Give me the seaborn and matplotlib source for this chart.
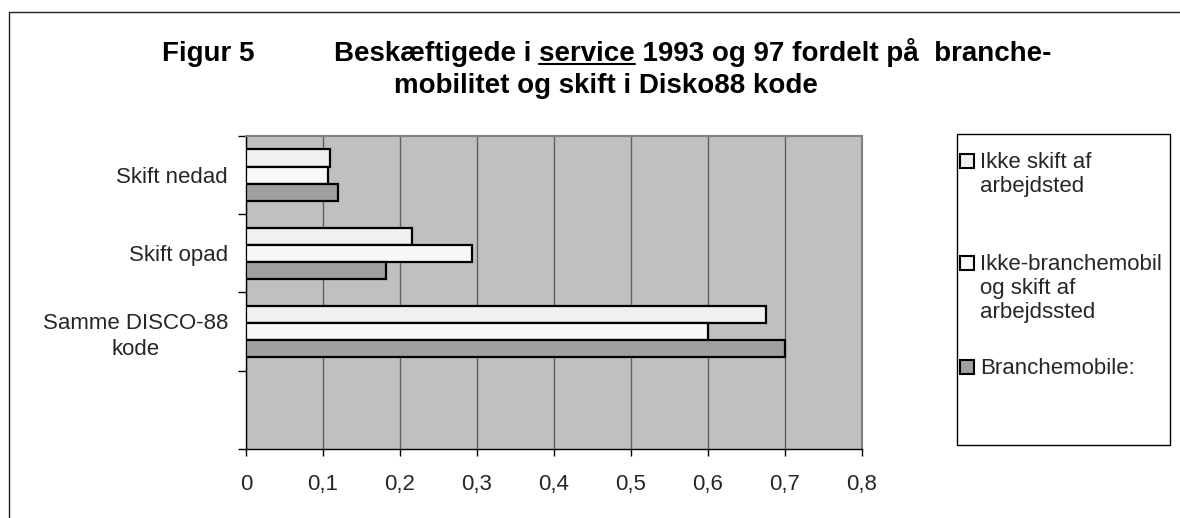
import matplotlib
matplotlib.use("Agg")
import matplotlib.pyplot as plt
import seaborn as sns
import pandas as pd
from matplotlib.lines import Line2D
from matplotlib.patches import Rectangle

# --- data ---
categories = ["Skift nedad", "Skift opad", "Samme DISCO-88\nkode"]
series = ["Ikke skift af\narbejdsted",
          "Ikke-branchemobil\nog skift af\narbejdssted",
          "Branchemobile:"]
ikke_skift = [0.109, 0.216, 0.675]
ikke_branchemobil = [0.106, 0.293, 0.600]
branchemobile = [0.119, 0.182, 0.700]
x_ticks = [0, 0.1, 0.2, 0.3, 0.4, 0.5, 0.6, 0.7, 0.8]
x_tick_labels = ["0", "0,1", "0,2", "0,3", "0,4", "0,5", "0,6", "0,7", "0,8"]

# farver (Excel-gråtoner)
COLORS = ["#f0f0f0", "#f8f8f8", "#a0a0a0"]

W, H = 1180, 518


def fx(px):
    return px / W


def fy(py):
    return 1 - py / H


rows = []
for s, vals in zip(series, [ikke_skift, ikke_branchemobil, branchemobile]):
    for c, v in zip(categories, vals):
        rows.append({"category": c, "series": s, "value": v})
df = pd.DataFrame(rows)

sns.set_theme(style="white")
plt.rcParams["font.family"] = ["Liberation Sans", "DejaVu Sans"]

fig = plt.figure(figsize=(11.8, 5.18), dpi=100)
ax = fig.add_axes([fx(246), fy(449), fx(862) - fx(246), fy(136) - fy(449)])
ax.set_facecolor("#c0c0c0")

sns.barplot(data=df, x="value", y="category", hue="series",
            order=categories, hue_order=series, palette=COLORS,
            saturation=1, width=0.66, edgecolor="black", linewidth=1.6,
            orient="h", legend=False, ax=ax, zorder=3)

ax.set_xlim(0, 0.8)
ax.set_ylim(3.5, -0.5)
ax.set_axisbelow(True)
ax.xaxis.grid(True, color="#606060", linewidth=1)
ax.yaxis.grid(False)
ax.set_xlabel("")
ax.set_ylabel("")

ax.set_xticks(x_ticks, x_tick_labels)
ax.tick_params(axis="x", direction="out", length=5, width=1, color="black",
               labelsize=16, pad=13, bottom=True)
ax.tick_params(axis="y", which="major", length=0, labelsize=16, pad=13, left=False)
ax.set_yticks([-0.5, 0.5, 1.5, 2.5, 3.5], minor=True)
ax.tick_params(axis="y", which="minor", direction="out", length=6, width=1,
               color="black", left=True)
for lbl in ax.get_yticklabels():
    lbl.set_multialignment("center")
    lbl.set_linespacing(1.3)

for side in ["left", "bottom"]:
    ax.spines[side].set_color("black")
    ax.spines[side].set_linewidth(1)
for side in ["top", "right"]:
    ax.spines[side].set_color("#808080")
    ax.spines[side].set_linewidth(1.5)

# ramme om figuren
fig.add_artist(Line2D([fx(9), 1], [fy(12), fy(12)], color="#202020", linewidth=1))
fig.add_artist(Line2D([fx(9), fx(9)], [fy(12), 0], color="#202020", linewidth=1))

# titel
title_kw = dict(fontsize=20, fontweight="bold", color="black")
fig.text(fx(162), fy(61), "Figur 5", ha="left", va="baseline", **title_kw)
line1 = "Beskæftigede i service 1993 og 97 fordelt på  branche-"
fig.text(fx(334), fy(61), line1, ha="left", va="baseline", **title_kw)
fig.text(fx(606), fy(93), "mobilitet og skift i Disko88 kode", ha="center",
         va="baseline", **title_kw)

# understregning af "service"
renderer = fig.canvas.get_renderer()


def text_width(s):
    t = fig.text(0, 0, s, **title_kw)
    w = t.get_window_extent(renderer).width
    t.remove()
    return w


u_start = 334 + text_width("Beskæftigede i s") - text_width("s")
u_end = 334 + text_width("Beskæftigede i service")
fig.add_artist(Line2D([fx(u_start), fx(u_end)], [fy(64), fy(64)],
                      color="black", linewidth=1.5))

# legende
fig.add_artist(Rectangle((fx(957), fy(445)), fx(1170) - fx(957), fy(134) - fy(445),
                         transform=fig.transFigure, facecolor="white",
                         edgecolor="black", linewidth=1))
entry_y = [161, 263, 367]
for lab, col, yc in zip(series, COLORS, entry_y):
    fig.add_artist(Rectangle((fx(960), fy(yc + 7)), fx(974) - fx(960), fy(yc - 7) - fy(yc + 7),
                             transform=fig.transFigure, facecolor=col,
                             edgecolor="black", linewidth=1.5))
    fig.text(fx(980), fy(yc - 9), lab, ha="left", va="top", fontsize=16,
             linespacing=1.2)

fig.savefig("out.png", dpi=100)
